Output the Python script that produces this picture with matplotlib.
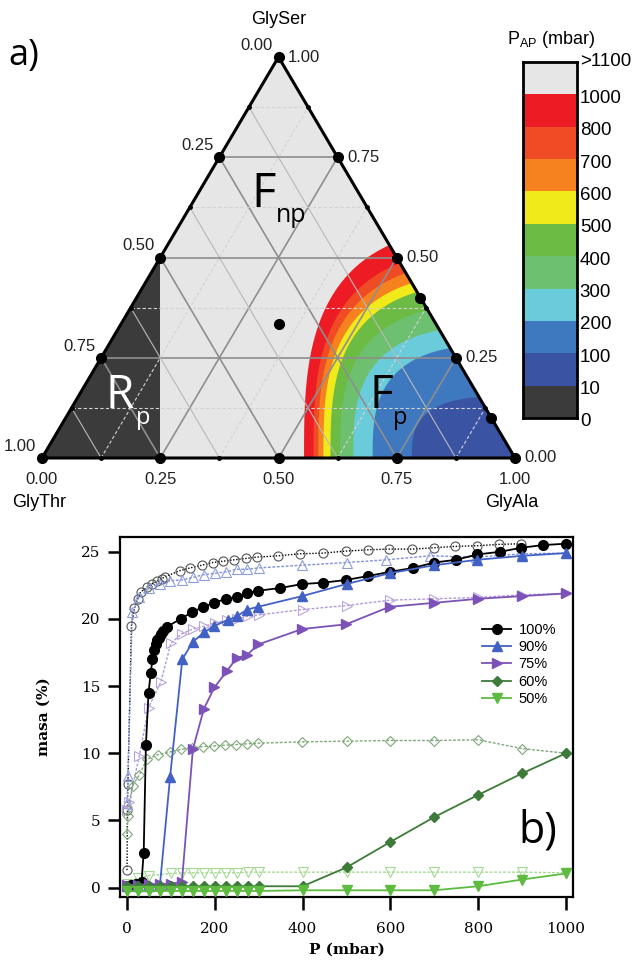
import numpy as np
import matplotlib
matplotlib.use('Agg')
import matplotlib.pyplot as plt
import matplotlib.transforms as mtrans
from matplotlib.patches import Polygon

# ---------------- datos: diagrama ternario ----------------
# limite de las bandas de P_AP (mbar): fraccion de GlyAla sobre la base y de GlySer sobre el lado derecho
band_levels = [1000, 800, 700, 600, 500, 400, 300, 200, 100]
band_ala_bottom = [0.554, 0.574, 0.584, 0.595, 0.610, 0.630, 0.658, 0.699, 0.782]
band_ser_edge = [0.531, 0.486, 0.461, 0.436, 0.414, 0.369, 0.319, 0.274, 0.152]
band_colors = ['#ED1C24', '#EF4B24', '#F5821F', '#F1EA1B', '#6CBB45',
               '#6DC06F', '#6ACCDA', '#3E78BE', '#3A53A3']
rp_ala = 0.25  # region Rp (GlyAla < 0.25 en x)

# composiciones medidas (GlyAla, GlySer)
comp_ala = [0, 0.25, 0.5, 0.75, 1, 0, 0, 0, 0, 0.9, 0.75, 0.6, 0.5, 0.25, 1/3]
comp_ser = [0, 0, 0, 0, 0, 1, 0.25, 0.5, 0.75, 0.1, 0.25, 0.4, 0.5, 0.75, 1/3]

cbar_labels = ['0', '10', '100', '200', '300', '400', '500', '600', '700', '800', '1000', '>1100']
cbar_colors = ['#3B3B3C', '#3A53A3', '#3E78BE', '#6ACCDA', '#6DC06F', '#6CBB45',
               '#F1EA1B', '#F5821F', '#EF4B24', '#ED1C24', '#E6E6E7']

# ---------------- datos: isotermas ----------------
p100 = [0, 10, 20, 33, 38, 43, 49, 54, 58, 62, 65, 69, 73, 77, 83, 90, 122, 148, 174, 199, 225, 250,
        274, 298, 349, 399, 447, 499, 550, 598, 652, 700, 749, 798, 850, 898, 948, 1000]
m100 = [0.1, 0.2, 0.3, 0.4, 2.6, 10.6, 14.5, 16.0, 17.0, 17.7, 18.1, 18.4, 18.6, 18.9, 19.1, 19.4, 20.0,
        20.5, 20.9, 21.2, 21.5, 21.6, 21.9, 22.1, 22.3, 22.6, 22.7, 22.9, 23.2, 23.5, 23.8, 24.2, 24.4,
        24.8, 25.0, 25.3, 25.5, 25.6]
p90 = [0, 25, 50, 75, 98, 126, 150, 176, 199, 229, 250, 274, 298, 399, 500, 598, 700, 797, 900, 1000]
m90 = [0.1, 0.1, 0.15, 0.2, 8.2, 17.0, 18.3, 19.0, 19.5, 19.9, 20.2, 20.7, 20.9, 21.7, 22.6, 23.4,
       24.0, 24.4, 24.7, 24.9]
p75 = [0, 25, 50, 75, 100, 125, 150, 175, 199, 227, 250, 273, 299, 399, 499, 598, 700, 800, 900, 1000]
m75 = [0.2, 0.2, 0.25, 0.25, 0.3, 0.4, 10.3, 13.3, 14.9, 16.1, 17.1, 17.3, 18.1, 19.25, 19.6, 20.9,
       21.2, 21.5, 21.7, 21.9]
p60 = [0, 25, 50, 75, 100, 125, 150, 175, 200, 225, 250, 275, 300, 400, 500, 600, 700, 800, 900, 1000]
m60 = [0.1, 0.1, 0.1, 0.1, 0.1, 0.1, 0.1, 0.1, 0.1, 0.1, 0.1, 0.1, 0.1, 0.1, 1.5, 3.4, 5.25, 6.9, 8.5, 10.0]
p50 = [0, 25, 50, 75, 100, 125, 150, 175, 200, 225, 250, 275, 300, 400, 500, 600, 700, 800, 900, 1000]
m50 = [-0.25, -0.25, -0.25, -0.25, -0.25, -0.25, -0.25, -0.25, -0.25, -0.25, -0.25, -0.25, -0.25,
       -0.2, -0.2, -0.2, -0.2, 0.1, 0.6, 1.05]

# series abiertas (punteadas)
po100 = [0, 1, 2, 10, 17, 24, 31, 45, 56, 68, 79, 87, 121, 144, 170, 195, 219, 244, 270, 295, 344, 394,
         446, 498, 550, 597, 650, 700, 747, 798, 848, 898]
mo100 = [1.3, 5.8, 7.7, 19.5, 20.8, 21.5, 22.0, 22.35, 22.6, 22.8, 23.0, 23.15, 23.6, 23.8, 24.0, 24.2,
         24.3, 24.4, 24.5, 24.6, 24.7, 24.85, 24.9, 25.05, 25.15, 25.2, 25.2, 25.3, 25.4, 25.45, 25.55, 25.6]
po90 = [0, 2, 12, 27, 51, 74, 98, 125, 151, 175, 200, 225, 250, 274, 300, 399, 500, 590, 690, 795, 900, 1000]
mo90 = [6.3, 8.3, 20.5, 21.6, 22.3, 22.6, 22.85, 22.9, 23.1, 23.3, 23.4, 23.5, 23.7, 23.7, 23.8, 24.0,
        24.2, 24.4, 24.7, 24.6, 24.85, 24.9]
po75 = [0, 5, 28, 49, 77, 100, 125, 150, 175, 200, 228, 250, 275, 300, 400, 500, 600, 700, 800, 900, 1000]
mo75 = [5.8, 6.4, 9.8, 13.4, 15.3, 18.2, 18.9, 19.25, 19.45, 19.7, 19.9, 20.0, 20.2, 20.3, 20.7, 21.0,
        21.4, 21.5, 21.6, 21.8, 21.9]
po60 = [0, 2, 13, 28, 45, 71, 98, 124, 149, 174, 199, 224, 249, 273, 298, 398, 500, 600, 700, 800, 900, 1000]
mo60 = [4.0, 5.3, 7.6, 8.4, 9.55, 9.9, 10.1, 10.3, 10.4, 10.5, 10.55, 10.6, 10.65, 10.7, 10.75, 10.85,
        10.9, 10.95, 10.95, 11.0, 10.35, 10.0]
po50 = [0, 25, 50, 100, 125, 150, 175, 200, 225, 250, 275, 300, 400, 500, 600, 700, 800, 900, 1000]
mo50 = [0.3, 0.7, 0.9, 1.05, 1.1, 1.1, 1.1, 1.1, 1.1, 1.1, 1.15, 1.15, 1.15, 1.15, 1.15, 1.15, 1.15, 1.15, 1.1]

series_labels = ['100%', '90%', '75%', '60%', '50%']

W, H = 636, 960
SQ = np.sqrt(3) / 2
SANS = 'Liberation Sans'
BIG = 'Open Sans'


def tern(a, s):
    a = np.asarray(a, dtype=float)
    s = np.asarray(s, dtype=float)
    return a + s / 2, s * SQ


def px(x0, y0, w, h):
    return [x0 / W, 1 - (y0 + h) / H, w / W, h / H]


fig = plt.figure(figsize=(W / 100, H / 100), dpi=100)

# ================= a) diagrama ternario =================
axt = fig.add_axes(px(42, 57, 473, 401))
axt.set_xlim(0, 1)
axt.set_ylim(0, SQ)
axt.axis('off')

corners = np.column_stack(tern([0, 1, 0], [0, 0, 1]))
tri = Polygon(corners, closed=True, facecolor='#E6E6E7', edgecolor='none', zorder=0)
axt.add_patch(tri)

rp = Polygon(np.column_stack(tern([0, rp_ala, 0], [0, 0, 2 * rp_ala])), closed=True,
             facecolor='#3B3B3C', edgecolor='none', zorder=1)
axt.add_patch(rp)

t = np.linspace(0, np.pi / 2, 300)
for a0, s0, col in zip(band_ala_bottom, band_ser_edge, band_colors):
    D = 1 - a0
    ex, ey = s0 / 2, s0 * SQ
    V = ey / (1 - (ex / D) ** 3) ** (1 / 3)
    xs = 1 - D * np.cos(t) ** (2 / 3)
    ys = V * np.sin(t) ** (2 / 3)
    band = Polygon(np.column_stack([np.r_[1, xs], np.r_[0, ys]]), closed=True,
                   facecolor=col, edgecolor='none', zorder=1)
    axt.add_patch(band)
    band.set_clip_path(tri)

# rejilla
for v in np.arange(1, 8) / 8:
    major = abs(v * 4 - round(v * 4)) < 1e-9
    c_ser = tern([0, 1 - v], [v, v])
    c_ala = tern([v, v], [0, 1 - v])
    c_thr = tern([1 - v, 0], [0, 1 - v])
    if major:
        for c in (c_ser, c_ala, c_thr):
            axt.plot(*c, color='#8E8E8E', lw=1.2, zorder=2)
    else:
        axt.plot(*c_ser, color='#D2D2D2', lw=0.8, ls=(0, (3, 2)), zorder=2)
        axt.plot(*c_ala, color='#D2D2D2', lw=0.8, ls=(0, (3, 2)), zorder=2)
        axt.plot(*c_thr, color='#B8B8B8', lw=0.8, zorder=2)
        # marcas menores sobre los bordes
        for a, s in ((v, 0), (1 - v, v), (0, 1 - v)):
            axt.plot(*tern(a, s), 'o', color='black', ms=2.5, zorder=5, clip_on=False)

axt.plot(*np.column_stack([corners.T, corners[:1].T]), color='black', lw=2.2, zorder=4,
         solid_joinstyle='miter', clip_on=False)
axt.plot(*tern(comp_ala, comp_ser), 'o', color='black', ms=7, zorder=6, clip_on=False)

ticks = [0, 0.25, 0.5, 0.75, 1.0]
tick_font = dict(fontsize=12, family=SANS, color='#222222')
for v in ticks:
    axt.annotate(f'{v:.2f}', tern(v, 0), xytext=(0, -10), textcoords='offset points',
                 ha='center', va='top', **tick_font)
    axt.annotate(f'{v:.2f}', tern(1 - v, v), xytext=(7, 0), textcoords='offset points',
                 ha='left', va='center', **tick_font)
    axt.annotate(f'{v:.2f}', tern(0, 1 - v), xytext=(-4, 3), textcoords='offset points',
                 ha='right', va='bottom', **tick_font)

axt.annotate('GlySer', tern(0, 1), xytext=(0, 21), textcoords='offset points',
             ha='center', va='bottom', fontsize=13, family=SANS)
axt.annotate('GlyThr', tern(0, 0), xytext=(-2, -26), textcoords='offset points',
             ha='center', va='top', fontsize=13, family=SANS)
axt.annotate('GlyAla', tern(1, 0), xytext=(-2, -26), textcoords='offset points',
             ha='center', va='top', fontsize=13, family=SANS)


def ftext(x, y, s, size, color='black', fam=BIG):
    fig.text(x / W, 1 - y / H, s, fontsize=size, color=color, family=fam,
             ha='left', va='baseline')


ftext(251, 207, 'F', 34)
ftext(276, 222, 'np', 18)
ftext(106, 408, 'R', 33, 'white')
ftext(136, 424, 'p', 17, 'white')
ftext(370, 408, 'F', 33)
ftext(393, 424, 'p', 17)
ftext(8, 65, 'a)', 26)

# barra de colores
cax = fig.add_axes(px(523, 62, 54, 356))
for i, c in enumerate(cbar_colors):
    cax.axhspan(i, i + 1, color=c, lw=0)
cax.set_ylim(0, len(cbar_colors))
cax.set_xlim(0, 1)
cax.set_xticks([])
cax.yaxis.tick_right()
cax.set_yticks(np.arange(len(cbar_labels)) + 0.0)
cax.set_yticklabels(cbar_labels, fontsize=13.5, family=SANS)
cax.tick_params(axis='y', length=0, pad=2)
shift = mtrans.ScaledTranslation(0, -4 / 100, fig.dpi_scale_trans)
for i, lab in enumerate(cax.get_yticklabels()):
    lab.set_va('center')
    if i < len(cbar_labels) - 1:
        lab.set_transform(lab.get_transform() + shift)
for sp in cax.spines.values():
    sp.set_linewidth(2)
fig.text(551 / W, 1 - 40 / H, r'P$_{\mathregular{AP}}$ (mbar)', fontsize=13, family=SANS,
         ha='center', va='center')

# ================= b) isotermas =================
ax = fig.add_axes(px(120, 537, 453, 360))
ax.set_xlim(-16, 1016)
ax.set_ylim(-0.7, 26.1)

open_style = [
    (po100, mo100, 'o', '#555555', 'black', (0, (1, 1.2))),
    (po90, mo90, '^', '#8E9EDD', '#7F90DA', (0, (2, 1.2))),
    (po75, mo75, '>', '#B9A5DD', '#B09ADA', (0, (2, 1.2))),
    (po60, mo60, 'D', '#7FA87A', '#7FA87A', (0, (2, 1.2))),
    (po50, mo50, 'v', '#A4D992', '#A4D992', (0, (2, 1.2))),
]
for xs, ys, mk, mc, lc, ls in open_style:
    ax.plot(xs, ys, ls=ls, color=lc, lw=1.0, marker=mk, ms=6.5 if mk != 'D' else 5.5,
            mfc='none', mec=mc, mew=0.8, zorder=2)

filled_style = [
    (p100, m100, 'o', 'black'),
    (p90, m90, '^', '#4261C4'),
    (p75, m75, '>', '#7D52B8'),
    (p60, m60, 'D', '#3E7B3A'),
    (p50, m50, 'v', '#5DBB3F'),
]
handles = []
for (xs, ys, mk, c), lab in zip(filled_style, series_labels):
    h, = ax.plot(xs, ys, '-', color=c, lw=1.3, marker=mk, ms=7 if mk != 'D' else 5.5,
                 mfc=c, mec=c, zorder=3, label=lab)
    handles.append(h)

ax.set_xticks([0, 200, 400, 600, 800, 1000])
ax.set_yticks([0, 5, 10, 15, 20, 25])
ax.tick_params(direction='out', length=9, width=1.8, labelsize=11)
ax.tick_params(axis='x', pad=9)
ax.tick_params(axis='y', pad=5)
for lab in ax.get_xticklabels() + ax.get_yticklabels():
    lab.set_family('DejaVu Serif')
for sp in ax.spines.values():
    sp.set_linewidth(1.6)
ax.set_xlabel('P (mbar)', family='DejaVu Serif', fontsize=11, fontweight='bold', labelpad=5)
ax.set_ylabel('masa (%)', family='DejaVu Serif', fontsize=11, fontweight='bold', labelpad=22)

ax.legend(handles=handles, loc='upper left', bbox_to_anchor=((482 - 120) / 453, 1 - (623 - 537) / 360),
          frameon=False, prop={'family': SANS, 'size': 10.5}, handlelength=2.0,
          handletextpad=0.5, labelspacing=0.22, borderpad=0, borderaxespad=0)

ftext(518, 842, 'b)', 31)

fig.savefig('out.png', dpi=100)
